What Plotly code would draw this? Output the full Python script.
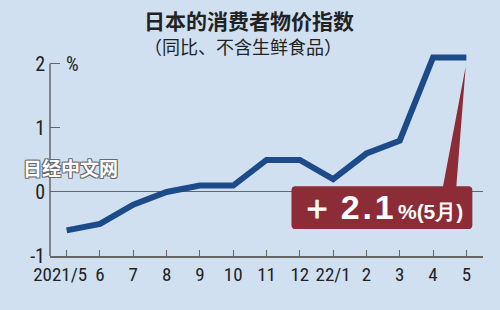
import plotly.graph_objects as go

months = ["2021/5", "6", "7", "8", "9", "10", "11", "12", "22/1", "2", "3", "4", "5"]
cpi = [-0.6, -0.5, -0.2, 0.0, 0.1, 0.1, 0.5, 0.5, 0.2, 0.6, 0.8, 2.1, 2.1]
y_ticks = [-1, 0, 1, 2]

title = "日本的消费者物价指数"
subtitle = "（同比、不含生鲜食品）"
callout_main = "＋\u20092\u200a.\u200a1"
callout_sub = "%(5月)"
watermark = "日经中文网"

BG = "#d0e0f1"
LINE = "#1d4a89"
RED = "#8b2c36"
AXIS = "#666666"
NARROW = "Liberation Sans Narrow, Arial Narrow, Roboto Condensed, sans-serif"

W, H = 500, 310
ML, MR, MT, MB = 50, 17, 51, 54
PW, PH = W - ML - MR, H - MT - MB


def px(x):
    return (x - ML) / PW


def py(y):
    return (H - MB - y) / PH


xs = list(range(len(months)))
tick_text = [m if i else m + "\u00a0" * 3 for i, m in enumerate(months)]

fig = go.Figure()
fig.add_trace(go.Scatter(
    x=xs, y=cpi, mode="lines",
    line=dict(color=LINE, width=6),
    hoverinfo="skip", showlegend=False,
))

# callout geometry (data units)
bx0, bx1, by0, by1 = 6.75, 12.18, -0.58, 0.09
rx, ry = 0.12, 0.065
tip_x = xs[-1] - 0.02
tip_y = cpi[-1] - 0.14
path = (
    f"M {bx0+rx},{by1} L {11.3},{by1} L {tip_x},{tip_y} L {11.7},{by1} "
    f"L {bx1-rx},{by1} Q {bx1},{by1} {bx1},{by1-ry} "
    f"L {bx1},{by0+ry} Q {bx1},{by0} {bx1-rx},{by0} "
    f"L {bx0+rx},{by0} Q {bx0},{by0} {bx0},{by0+ry} "
    f"L {bx0},{by1-ry} Q {bx0},{by1} {bx0+rx},{by1} Z"
)
fig.add_shape(type="path", path=path, xref="x", yref="y",
              fillcolor=RED, line=dict(width=0), layer="above")

# y axis line (only up to 2)
fig.add_shape(type="line", xref="paper", yref="y", x0=0, x1=0,
              y0=y_ticks[0], y1=y_ticks[-1], line=dict(color=AXIS, width=1.5))

# titles
fig.add_annotation(
    text=f"<b>{title}</b>", x=px(249), y=py(20), xref="paper", yref="paper",
    xanchor="center", yanchor="middle", showarrow=False,
    font=dict(family="Noto Sans CJK SC, sans-serif", size=21, color="#222222"),
)
fig.add_annotation(
    text=subtitle, x=px(243), y=py(46), xref="paper", yref="paper",
    xanchor="center", yanchor="middle", showarrow=False,
    font=dict(family="Noto Sans CJK SC, sans-serif", size=18, color="#222222"),
)
# callout text
fig.add_annotation(
    x=9.45, y=-0.23, xref="x", yref="y", showarrow=False,
    text=f"<b>{callout_main}</b><b><span style='font-size:21px'>\u2009{callout_sub}</span></b>",
    font=dict(family="Liberation Sans, Arial, sans-serif", size=34, color="white"),
)
# percent unit
fig.add_annotation(
    x=px(64), y=y_ticks[-1], xref="paper", yref="y", xanchor="left", yanchor="middle",
    showarrow=False, text="%",
    font=dict(family=NARROW, size=20, color="#222222"),
)
# watermark
fig.add_annotation(
    x=px(70), y=py(167), xref="paper", yref="paper", showarrow=False,
    xanchor="center", yanchor="middle",
    text=f"<b>{watermark}</b>",
    font=dict(family="Noto Sans CJK SC, sans-serif", size=19, color="white",
              shadow="1px 1px 0 #6a6a6a, -1px -1px 0 #6a6a6a, 1px -1px 0 #6a6a6a, -1px 1px 0 #6a6a6a"),
)

fig.update_layout(
    width=W, height=H,
    margin=dict(l=ML, r=MR, t=MT, b=MB, autoexpand=False),
    paper_bgcolor=BG, plot_bgcolor=BG,
    xaxis=dict(
        range=[-0.5, 12.5], tickvals=xs, ticktext=tick_text, tickangle=0,
        automargin=False,
        showgrid=False, zeroline=False, showline=True, linecolor=AXIS, linewidth=1.5,
        ticks="inside", ticklen=6, tickcolor=AXIS, tickwidth=1,
        tickfont=dict(family=NARROW, size=19, color="#222222"),
        fixedrange=True,
    ),
    yaxis=dict(
        range=[-1, 2.2], tickvals=y_ticks, ticktext=[str(v) for v in y_ticks],
        automargin=False,
        showgrid=False, zeroline=True, zerolinecolor=AXIS, zerolinewidth=1,
        showline=False, ticks="inside", ticklen=10, tickcolor=AXIS, tickwidth=1,
        tickfont=dict(family=NARROW, size=20, color="#222222"),
        ticklabelstandoff=4, fixedrange=True,
    ),
    showlegend=False,
)

fig.write_html("out.html")
